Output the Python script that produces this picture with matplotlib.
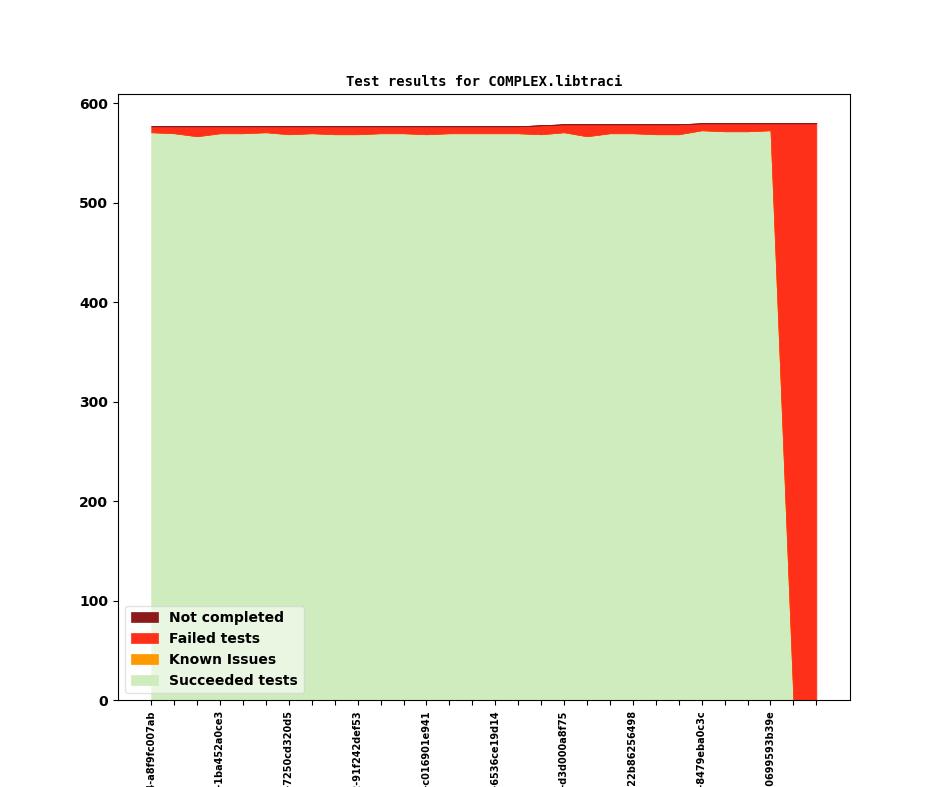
import numpy as np
import matplotlib
matplotlib.use("Agg")
import matplotlib.pyplot as plt

# data
revisions = [
    "v1_20_0+0514-a8f9fc007ab", "", "",
    "v1_20_0+0531-1ba452a0ce3", "", "",
    "v1_20_0+0547-7250cd320d5", "", "",
    "v1_20_0+0562-91f242def53", "", "",
    "v1_20_0+0578-c016901e941", "", "",
    "v1_20_0+0590-6536ce19d14", "", "",
    "v1_20_0+0607-d3d000a8f75", "", "",
    "v1_20_0+0622-22b86256498", "", "",
    "v1_20_0+0640-8479eba0c3c", "", "",
    "v1_20_0+0655-0699593b39e", "", "",
]
succeeded = [571, 570, 567, 570, 570, 571, 569, 570, 569, 569,
             570, 570, 569, 570, 570, 570, 570, 569, 571, 567,
             570, 570, 569, 569, 573, 572, 572, 573, 0, 0]
known_issues = [0] * 30
failed = [6, 7, 10, 7, 7, 6, 8, 7, 8, 8,
          7, 7, 8, 7, 7, 7, 7, 9, 8, 12,
          9, 9, 10, 10, 7, 8, 8, 7, 580, 580]
not_completed = [0] * 30

colors = ["#cfecbf", "#ff9900", "#ff301a", "#8b1a1a"]

plt.rcParams["font.weight"] = "bold"

fig = plt.figure(figsize=(9.44, 7.87), dpi=100)
ax = fig.add_subplot(111)

x = np.arange(len(succeeded))
polys = ax.stackplot(x, succeeded, known_issues, failed, not_completed,
                     colors=colors,
                     labels=["Succeeded tests", "Known Issues", "Failed tests", "Not completed"])
# old-style filled areas: thin edge drawn in the face colour
for p, c in zip(polys, colors):
    p.set_edgecolor(c)
    p.set_linewidth(0.5)

ax.set_xticks(x)
ax.set_xticklabels(revisions, rotation=90, fontsize=7, fontweight="bold")
for lab in ax.get_yticklabels():
    lab.set_fontweight("bold")

handles, labels = ax.get_legend_handles_labels()
ax.legend(handles[::-1], labels[::-1], loc="lower left", prop={"weight": "bold"},
          framealpha=0.55)

ax.set_title("Test results for COMPLEX.libtraci", fontfamily="monospace",
             fontweight="bold", fontsize=10)

fig.savefig("out.png", dpi=100)
